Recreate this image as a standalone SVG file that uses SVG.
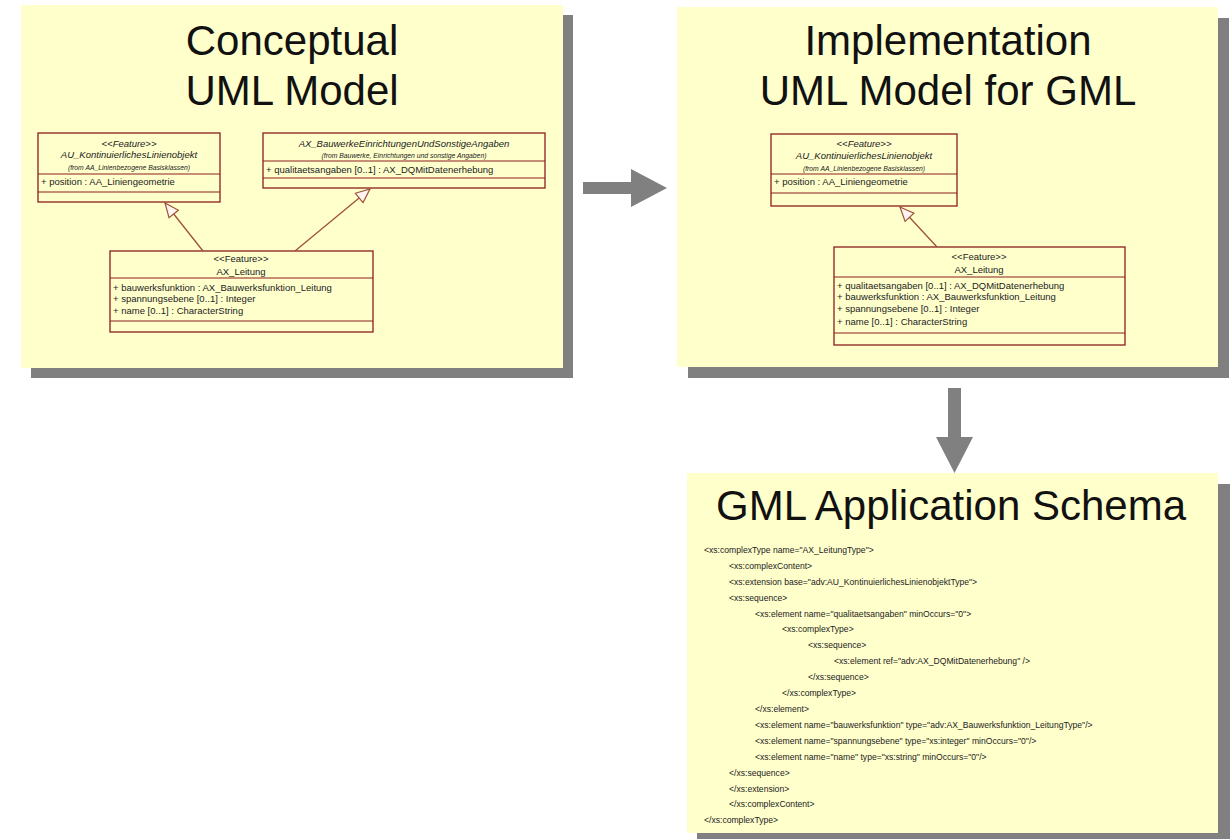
<svg xmlns="http://www.w3.org/2000/svg" width="1230" height="839" viewBox="0 0 1230 839">
<style>
.panel{fill:#FFFFCC}
.shadow{fill:#808080}
.title{font-family:"Liberation Sans",Arial,sans-serif;font-size:42px;fill:#111;text-anchor:middle}
.cls{fill:#FFFFCC;stroke:#8B1E1E;stroke-width:1.3}
.div{stroke:#8B1E1E;stroke-width:1.2}
.t{font-family:"Liberation Sans",Arial,sans-serif;font-size:9.5px;fill:#222}
.c{text-anchor:middle}
.i{font-style:italic}
.s{font-size:6.8px}
.x{font-family:"Liberation Sans",Arial,sans-serif;font-size:8.6px;fill:#222}
.gen{stroke:#A0503A;stroke-width:1.3;fill:none;marker-end:url(#tri)}
.big{fill:#808080}
</style>
<defs>
<marker id="tri" markerUnits="userSpaceOnUse" markerWidth="18" markerHeight="16" refX="15" refY="7" orient="auto">
<path d="M1,1 L15,7 L1,13 Z" fill="#FFF4F0" stroke="#A0503A" stroke-width="1.2"/>
</marker>
</defs>
<rect width="1230" height="839" fill="#fff"/>

<g id="panel-conceptual">
<rect class="shadow" x="31" y="15" width="542" height="363"/>
<rect class="panel" x="21" y="5" width="542" height="363"/>
<text class="title" x="292" y="55">Conceptual</text>
<text class="title" x="292" y="105">UML Model</text>
</g>

<g id="panel-implementation">
<rect class="shadow" x="688" y="18" width="541" height="360"/>
<rect class="panel" x="677" y="7" width="541" height="360"/>
<text class="title" x="948" y="55">Implementation</text>
<text class="title" x="948" y="105">UML Model for GML</text>
</g>

<g id="panel-gml">
<rect class="shadow" x="697" y="484" width="533" height="360"/>
<rect class="panel" x="687" y="473" width="531" height="360"/>
<text class="title" x="951" y="520">GML Application Schema</text>
<g id="xml">
<text class="x" x="704" y="553">&lt;xs:complexType name="AX_LeitungType"&gt;</text>
<text class="x" x="729" y="569">&lt;xs:complexContent&gt;</text>
<text class="x" x="729" y="585">&lt;xs:extension base="adv:AU_KontinuierlichesLinienobjektType"&gt;</text>
<text class="x" x="729" y="601">&lt;xs:sequence&gt;</text>
<text class="x" x="755" y="617">&lt;xs:element name="qualitaetsangaben" minOccurs="0"&gt;</text>
<text class="x" x="782" y="632">&lt;xs:complexType&gt;</text>
<text class="x" x="808" y="648">&lt;xs:sequence&gt;</text>
<text class="x" x="834" y="664">&lt;xs:element ref="adv:AX_DQMitDatenerhebung" /&gt;</text>
<text class="x" x="808" y="680">&lt;/xs:sequence&gt;</text>
<text class="x" x="782" y="696">&lt;/xs:complexType&gt;</text>
<text class="x" x="755" y="712">&lt;/xs:element&gt;</text>
<text class="x" x="755" y="728">&lt;xs:element name="bauwerksfunktion" type="adv:AX_Bauwerksfunktion_LeitungType"/&gt;</text>
<text class="x" x="755" y="744">&lt;xs:element name="spannungsebene" type="xs:integer" minOccurs="0"/&gt;</text>
<text class="x" x="755" y="760">&lt;xs:element name="name" type="xs:string" minOccurs="0"/&gt;</text>
<text class="x" x="729" y="776">&lt;/xs:sequence&gt;</text>
<text class="x" x="729" y="792">&lt;/xs:extension&gt;</text>
<text class="x" x="729" y="807">&lt;/xs:complexContent&gt;</text>
<text class="x" x="704" y="823">&lt;/xs:complexType&gt;</text>
</g>
</g>

<g id="c1-AU_KontinuierlichesLinienobjekt">
<rect class="cls" x="38" y="133" width="182" height="69"/>
<line class="div" x1="38" y1="174" x2="220" y2="174"/>
<line class="div" x1="38" y1="192" x2="220" y2="192"/>
<text class="t c i" x="129" y="147">&lt;&lt;Feature&gt;&gt;</text>
<text class="t c i" x="129" y="158">AU_KontinuierlichesLinienobjekt</text>
<text class="t c i s" x="129" y="169.5">(from AA_Linienbezogene Basisklassen)</text>
<text class="t" x="41" y="185">+ position : AA_Liniengeometrie</text>
</g>

<g id="c1-AX_BauwerkeEinrichtungenUndSonstigeAngaben">
<rect class="cls" x="263" y="133" width="282" height="55"/>
<line class="div" x1="263" y1="161" x2="545" y2="161"/>
<line class="div" x1="263" y1="178" x2="545" y2="178"/>
<text class="t c i" x="404" y="146.5">AX_BauwerkeEinrichtungenUndSonstigeAngaben</text>
<text class="t c i s" x="404" y="157.5">(from Bauwerke, Einrichtungen und sonstige Angaben)</text>
<text class="t" x="266" y="172.5">+ qualitaetsangaben [0..1] : AX_DQMitDatenerhebung</text>
</g>

<g id="c1-AX_Leitung">
<rect class="cls" x="110" y="251" width="263" height="81"/>
<line class="div" x1="110" y1="278" x2="373" y2="278"/>
<line class="div" x1="110" y1="321" x2="373" y2="321"/>
<text class="t c" x="241" y="261.5">&lt;&lt;Feature&gt;&gt;</text>
<text class="t c" x="241" y="275">AX_Leitung</text>
<text class="t" x="113" y="290.5">+ bauwerksfunktion : AX_Bauwerksfunktion_Leitung</text>
<text class="t" x="113" y="302">+ spannungsebene [0..1] : Integer</text>
<text class="t" x="113" y="313.5">+ name [0..1] : CharacterString</text>
</g>

<g id="c2-AU_KontinuierlichesLinienobjekt">
<rect class="cls" x="771" y="134" width="186" height="72"/>
<line class="div" x1="771" y1="174" x2="957" y2="174"/>
<line class="div" x1="771" y1="193" x2="957" y2="193"/>
<text class="t c i" x="864" y="147">&lt;&lt;Feature&gt;&gt;</text>
<text class="t c i" x="864" y="159">AU_KontinuierlichesLinienobjekt</text>
<text class="t c i s" x="864" y="170.5">(from AA_Linienbezogene Basisklassen)</text>
<text class="t" x="774" y="185">+ position : AA_Liniengeometrie</text>
</g>

<g id="c2-AX_Leitung">
<rect class="cls" x="834" y="247" width="291" height="98"/>
<line class="div" x1="834" y1="277" x2="1125" y2="277"/>
<line class="div" x1="834" y1="333" x2="1125" y2="333"/>
<text class="t c" x="979" y="260">&lt;&lt;Feature&gt;&gt;</text>
<text class="t c" x="979" y="272.5">AX_Leitung</text>
<text class="t" x="837" y="288.5">+ qualitaetsangaben [0..1] : AX_DQMitDatenerhebung</text>
<text class="t" x="837" y="300">+ bauwerksfunktion : AX_Bauwerksfunktion_Leitung</text>
<text class="t" x="837" y="312">+ spannungsebene [0..1] : Integer</text>
<text class="t" x="837" y="324.5">+ name [0..1] : CharacterString</text>
</g>

<g id="connectors">
<line class="gen" x1="203" y1="251" x2="165" y2="203"/>
<line class="gen" x1="295" y1="251" x2="370" y2="189"/>
<line class="gen" x1="937" y1="247" x2="900" y2="207"/>
<path class="big" d="M583,182 H631 V169 L667,188 L631,207 V194 H583 Z"/>
<path class="big" d="M948,388 H961 V437 H973 L954.5,473 L936,437 H948 Z"/>
</g>
</svg>
